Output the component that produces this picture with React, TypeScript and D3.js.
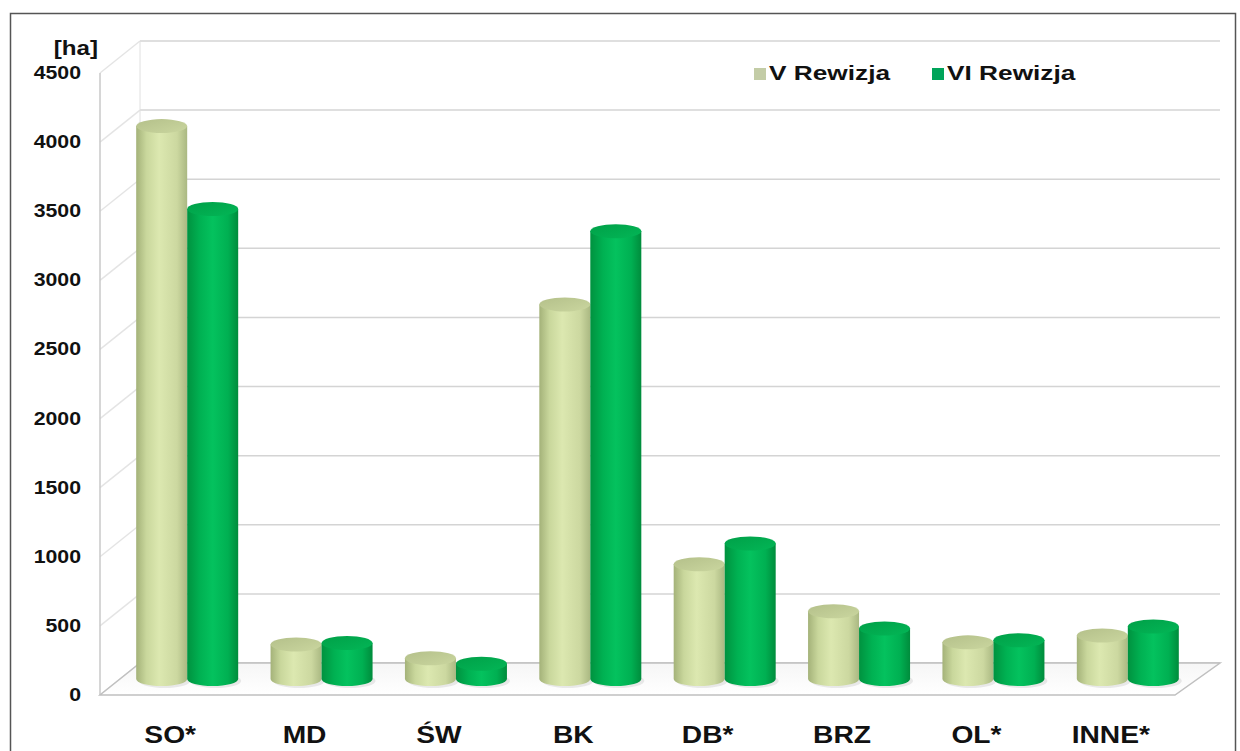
import React from "react";
import * as d3 from "d3";

const categories = ["SO*", "MD", "ŚW", "BK", "DB*", "BRZ", "OL*", "INNE*"];
const seriesNames = ["V Rewizja", "VI Rewizja"];
const valuesV = [4000, 250, 150, 2710, 830, 490, 265, 315];
const valuesVI = [3400, 260, 110, 3240, 980, 365, 280, 380];
const yTicks = [0, 500, 1000, 1500, 2000, 2500, 3000, 3500, 4000, 4500];

const W = 1240;
const H = 751;
const DX = 40;
const DY = -32;

export default function App() {
  const y = d3.scaleLinear().domain([0, 4500]).range([695, 73]);
  const x = d3.scaleBand<string>().domain(categories).range([100, 1175]);
  const bw = x.bandwidth();
  const rx = 25.5;
  const ry = 7;
  const midDX = DX / 2;
  const midDY = DY / 2;
  const baseY = y(0) + midDY;
  const font = "'Liberation Sans', Arial, sans-serif";

  const series = [valuesV, valuesVI];

  const cyl = (cx: number, v: number, s: number, key: string) => {
    const topY = y(v) + midDY;
    const body = `M${cx - rx},${topY} L${cx - rx},${baseY} A${rx},${ry} 0 0 0 ${cx + rx},${baseY} L${cx + rx},${topY} Z`;
    return (
      <g key={key}>
        <ellipse cx={cx + 3} cy={baseY + 2} rx={rx} ry={ry} fill="#000" opacity={0.08} />
        <path d={body} fill={`url(#body${s})`} />
        <ellipse cx={cx} cy={topY} rx={rx} ry={ry} fill={`url(#top${s})`} />
      </g>
    );
  };

  const sText = (
    key: string,
    tx: number,
    ty: number,
    sx: number,
    size: number,
    anchor: string,
    content: string
  ) => (
    <text
      key={key}
      transform={`translate(${tx},${ty}) scale(${sx},1)`}
      textAnchor={anchor}
      dominantBaseline="middle"
      fontSize={size}
      fontWeight="bold"
      fill="#111"
    >
      {content}
    </text>
  );

  return (
    <svg
      width={W}
      height={H}
      style={{ position: "absolute", left: 0, top: 0, background: "#fff" }}
      fontFamily={font}
    >
      <defs>
        <linearGradient id="body0" x1="0" x2="1" y1="0" y2="0">
          <stop offset="0" stopColor="#a4b279" />
          <stop offset="0.2" stopColor="#c9d79c" />
          <stop offset="0.45" stopColor="#dce8b0" />
          <stop offset="0.8" stopColor="#ccd8a0" />
          <stop offset="1" stopColor="#aab882" />
        </linearGradient>
        <linearGradient id="body1" x1="0" x2="1" y1="0" y2="0">
          <stop offset="0" stopColor="#00923f" />
          <stop offset="0.25" stopColor="#00b152" />
          <stop offset="0.5" stopColor="#04c25e" />
          <stop offset="0.8" stopColor="#00b052" />
          <stop offset="1" stopColor="#008c3c" />
        </linearGradient>
        <linearGradient id="top0" x1="0" x2="1" y1="0" y2="1">
          <stop offset="0" stopColor="#b4c08a" />
          <stop offset="1" stopColor="#cad69f" />
        </linearGradient>
        <linearGradient id="top1" x1="0" x2="1" y1="0" y2="1">
          <stop offset="0" stopColor="#00a048" />
          <stop offset="1" stopColor="#03b656" />
        </linearGradient>
        <linearGradient id="floorG" x1="0" x2="0" y1="0" y2="1">
          <stop offset="0" stopColor="#f6f6f6" />
          <stop offset="1" stopColor="#ffffff" />
        </linearGradient>
      </defs>

      {/* outer border */}
      <rect x={10.5} y={13.5} width={1225} height={760} fill="#fff" stroke="#555" strokeWidth={1.5} />

      {/* left wall gridlines */}
      {yTicks.map((t) => (
        <line
          key={"lw" + t}
          x1={100}
          y1={y(t)}
          x2={100 + DX}
          y2={y(t) + DY}
          stroke="#e4e4e4"
          strokeWidth={1.5}
        />
      ))}
      {/* back wall gridlines */}
      {yTicks.map((t) => (
        <line
          key={"bw" + t}
          x1={100 + DX}
          y1={y(t) + DY}
          x2={1175 + DX + 5}
          y2={y(t) + DY}
          stroke={t === 0 ? "#c8c8c8" : "#d4d4d4"}
          strokeWidth={1.5}
        />
      ))}
      {/* left wall edges */}
      <line x1={100} y1={y(4500)} x2={100} y2={y(0)} stroke="#c8c8c8" strokeWidth={1.5} />
      <line x1={100 + DX} y1={y(4500) + DY} x2={100 + DX} y2={y(0) + DY} stroke="#e0e0e0" strokeWidth={1} />

      {/* floor */}
      <path
        d={`M100,${y(0)} L1175,${y(0)} L${1175 + DX + 5},${y(0) + DY} L${100 + DX},${y(0) + DY} Z`}
        fill="url(#floorG)"
        stroke="#c0c0c0"
        strokeWidth={1.5}
      />

      {/* cylinders */}
      {categories.map((c, i) => {
        const center = (x(c) as number) + bw / 2 + midDX;
        return (
          <g key={c}>
            {series.map((vals, s) => cyl(center + (s === 0 ? -rx : rx), vals[i], s, c + s))}
          </g>
        );
      })}

      {/* y tick labels */}
      {yTicks.map((t) => sText("t" + t, 81, y(t) + 1, 1.12, 19, "end", String(t)))}
      {sText("ha", 98, 49, 1.15, 21, "end", "[ha]")}

      {/* category labels */}
      {categories.map((c) => sText("c" + c, (x(c) as number) + bw / 2 + 3, 737, 1.2, 23.5, "middle", c))}

      {/* legend */}
      {seriesNames.map((n, s) => {
        const lx = s === 0 ? 754 : 932;
        return (
          <g key={n}>
            <rect x={lx} y={68} width={12} height={12} fill={s === 0 ? "#c3cca6" : "#00a45a"} />
            {sText("l" + n, lx + 15, 74, 1.25, 21, "start", n)}
          </g>
        );
      })}
    </svg>
  );
}
